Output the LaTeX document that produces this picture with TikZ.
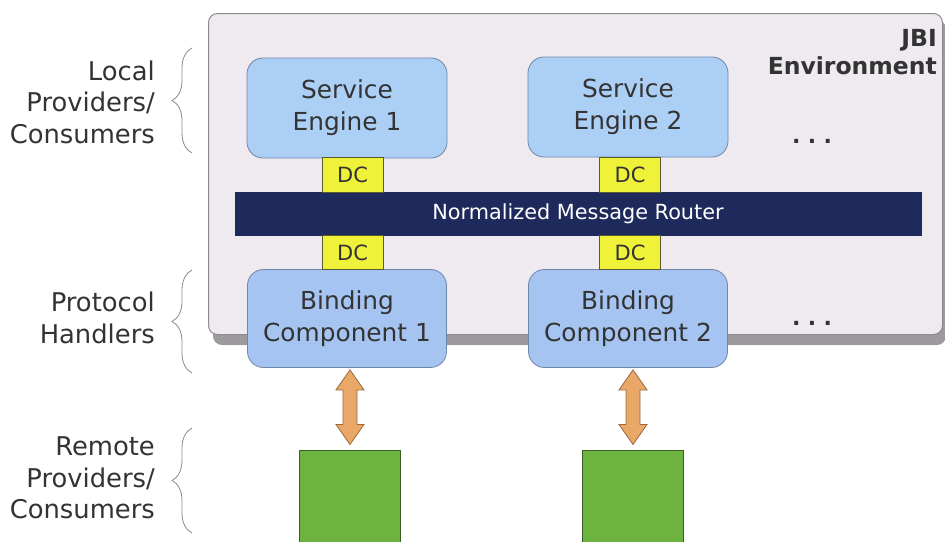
\documentclass[tikz,border=0pt]{standalone}
\usepackage{fontspec}
\setmainfont{DejaVu Sans}
\usetikzlibrary{calc,decorations.pathreplacing}
\definecolor{jbifill}{HTML}{EEEAF0}
\definecolor{jbiedge}{HTML}{8C8C8C}
\definecolor{shadowc}{HTML}{9C9A9C}
\definecolor{sefill}{HTML}{ACCFF5}
\definecolor{bcfill}{HTML}{A6C4F2}
\definecolor{boxedge}{HTML}{6F86A8}
\definecolor{dcfill}{HTML}{F0F23A}
\definecolor{dcedge}{HTML}{5A5A30}
\definecolor{nmrfill}{HTML}{1F2A5C}
\definecolor{arrfill}{HTML}{E9A867}
\definecolor{arredge}{HTML}{9A6A3A}
\definecolor{grfill}{HTML}{6DB33F}
\definecolor{gredge}{HTML}{3A5E22}
\definecolor{txt}{HTML}{333333}
\definecolor{bracec}{HTML}{8A8A8A}
\tikzset{
  comp/.style={draw=boxedge, line width=0.8pt, rounded corners=16pt, align=center,
    text=txt, font=\fontsize{24.8}{32}\selectfont, inner sep=0pt},
  sebox/.style={comp, fill=sefill, minimum width=200pt, minimum height=100pt},
  bcbox/.style={comp, fill=bcfill, minimum width=199pt, minimum height=98pt},
  dcbox/.style={draw=dcedge, line width=0.6pt, fill=dcfill, minimum width=61pt,
    minimum height=35pt, inner sep=0pt, text=txt, font=\fontsize{21}{22}\selectfont},
  rembox/.style={draw=gredge, line width=0.8pt, fill=grfill, minimum width=101pt,
    minimum height=110pt, inner sep=0pt},
  lbl/.style={align=right, anchor=east, text=txt, font=\fontsize{25.8}{31.5}\selectfont, inner sep=0pt},
  bracestyle/.style={draw=bracec, line width=0.8pt, decorate, decoration={brace, amplitude=20pt}},
  biarrow/.style={draw=arredge, line width=0.8pt, fill=arrfill, line join=miter},
  dots/.style={text=txt, font=\bfseries\fontsize{22}{24}\selectfont, inner sep=0pt, anchor=base}
}
\begin{document}
\begin{tikzpicture}[x=1pt, y=-1pt]
\path[use as bounding box] (0,0) rectangle (945,541);
\clip (0,0) rectangle (945,541);
% JBI environment box with shadow
\fill[shadowc, rounded corners=9pt] (213,20) rectangle (946,345);
\node[draw=jbiedge, line width=1pt, fill=jbifill, rounded corners=9pt, minimum width=734pt,
  minimum height=321pt, inner sep=0pt, anchor=north west] (jbi) at (208,13) {};
\node[align=right, anchor=base east, text=txt, font=\bfseries\fontsize{23.5}{28}\selectfont, inner sep=0pt]
  (jbilbl) at (937,74) {JBI\\Environment};
% components
\node[sebox] (se1) at (347,108) {Service\\Engine 1};
\node[sebox] (se2) at (628,107) {Service\\Engine 2};
\node[bcbox] (bc1) at (347,318.5) {Binding\\Component 1};
\node[bcbox] (bc2) at (628,318.5) {Binding\\Component 2};
% NMR bar
\node[fill=nmrfill, minimum width=687pt, minimum height=44pt, inner sep=0pt, text=white,
  font=\fontsize{20.8}{22}\selectfont] (nmr) at (578,213.5) {Normalized Message Router};
% DCs
\node[dcbox] (dc1) at (352.5,174.5) {DC};
\node[dcbox] (dc2) at (630,174.5) {DC};
\node[dcbox, minimum height=34pt] (dc3) at (352.5,252.5) {DC};
\node[dcbox, minimum height=34pt] (dc4) at (630,252.5) {DC};
% dots
\node[dots] (dotsa) at (812,143) {.\,\,.\,\,.};
\node[dots] (dotsb) at (812,325) {.\,\,.\,\,.};
% remote boxes
\node[rembox, anchor=north] (rem1) at (350,449.5) {};
\node[rembox, anchor=north] (rem2) at (633,449.5) {};
% double arrows
\foreach \b/\r/\n in {bc1/rem1/a, bc2/rem2/b}{
  \coordinate (\n t) at ($(\r.north |- \b.south)+(0,2)$);
  \coordinate (\n b) at ($(\r.north)+(0,-5)$);
  \draw[biarrow] (\n t) -- ++(14,20) -- ++(-7,0) -- ($(\n b)+(7,-20)$) -- ++(7,0) -- (\n b)
    -- ++(-14,-20) -- ++(7,0) -- ($(\n t)+(-7,20)$) -- ++(-7,0) -- cycle;
}
% left labels
\node[lbl] (l1) at (155,102) {Local\\Providers/\\Consumers};
\node[lbl] (l2) at (155,318) {Protocol\\Handlers};
\node[lbl] (l3) at (155,478) {Remote\\Providers/\\Consumers};
\coordinate (b1t) at (192,48);  \coordinate (b1b) at (192,153);
\coordinate (b2t) at (192,270); \coordinate (b2b) at (192,373);
\coordinate (b3t) at (192,428); \coordinate (b3b) at (192,533);
\draw[bracestyle] (b1b) -- (b1t);
\draw[bracestyle] (b2b) -- (b2t);
\draw[bracestyle] (b3b) -- (b3t);
\end{tikzpicture}
\end{document}
